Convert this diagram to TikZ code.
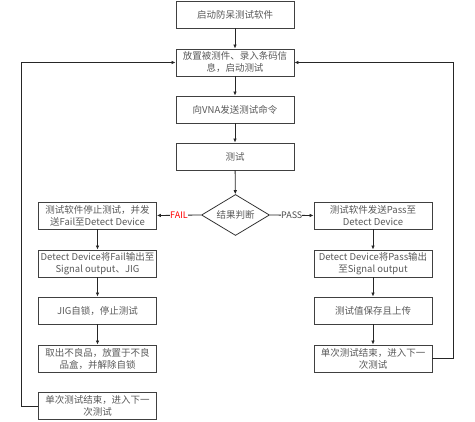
\documentclass[tikz,border=0pt]{standalone}
\usepackage{fontspec}
\setmainfont{Noto Sans CJK SC}
\usetikzlibrary{shapes.geometric,arrows.meta}
\begin{document}
\begin{tikzpicture}[x=1pt,y=-1pt,
  box/.style={draw=black!75,line width=0.9pt,minimum width=118pt,minimum height=27pt,inner sep=1pt,align=center,font=\fontsize{9.5}{12}\selectfont,text=black!65},
  dec/.style={draw=black!80,line width=0.8pt,diamond,aspect=1.68,minimum width=68pt,minimum height=41pt,inner sep=0pt,font=\fontsize{9.5}{12}\selectfont,text=black!65},
  arr/.style={draw=black!85,line width=0.8pt,-{Latex[length=4pt,width=3.6pt]}},
  lbl/.style={font=\fontsize{9}{10}\selectfont,inner sep=0pt,fill=white}]
\useasboundingbox (0,0) rectangle (475,422);
\node[box] (a) at (235,14.5) {启动防呆测试软件};
\node[box] (b) at (235,62.5) {放置被测件、录入条码信\\息，启动测试};
\node[box] (c) at (235,109.5) {向VNA发送测试命令};
\node[box] (d) at (235,156.5) {测试};
\node[dec] (e) at (235.5,215) {结果判断};
\node[box] (l1) at (97.5,215.5) {测试软件停止测试，并发\\送Fail至Detect Device};
\node[box] (l2) at (97.5,263.5) {Detect Device将Fail输出至\\Signal output、JIG};
\node[box] (l3) at (97.5,310.5) {JIG自锁，停止测试};
\node[box] (l4) at (97.5,358.5) {取出不良品，放置于不良\\品盒，并解除自锁};
\node[box] (l5) at (97.5,406) {单次测试结束，进入下一\\次测试};
\node[box] (r1) at (373,215.5) {测试软件发送Pass至\\Detect Device};
\node[box] (r2) at (373,263.5) {Detect Device将Pass输出\\至Signal output};
\node[box] (r3) at (373,310.5) {测试值保存且上传};
\node[box] (r4) at (373,358.5) {单次测试结束，进入下一\\次测试};
\coordinate (lc1) at (21,406);
\coordinate (lc2) at (21,62.5);
\coordinate (rc1) at (453,358.5);
\coordinate (rc2) at (453,62.5);
\draw[arr] (a) -- (b);
\draw[arr] (b) -- (c);
\draw[arr] (c) -- (d);
\draw[arr] (d) -- (e);
\draw[arr] (e.west) -- node[lbl,text=red]{FAIL} (l1.east);
\draw[arr] (e.east) -- node[lbl,text=black!70]{PASS} (r1.west);
\draw[arr] (l1) -- (l2);
\draw[arr] (l2) -- (l3);
\draw[arr] (l3) -- (l4);
\draw[arr] (r1) -- (r2);
\draw[arr] (r2) -- (r3);
\draw[arr] (r3) -- (r4);
\draw[arr] (l5.west) -- (lc1) -- (lc2) -- (b.west);
\draw[arr] (r4.east) -- (rc1) -- (rc2) -- (b.east);
\end{tikzpicture}
\end{document}
